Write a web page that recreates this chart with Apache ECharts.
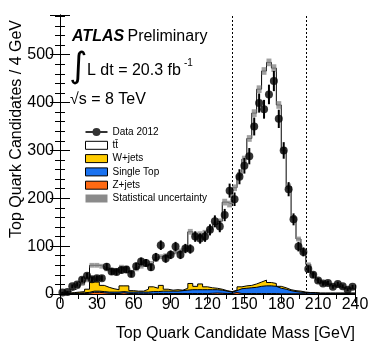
<!DOCTYPE html>
<html>
<head>
<meta charset="utf-8">
<script src="https://cdn.jsdelivr.net/npm/echarts@6/dist/echarts.min.js"></script>
<style>
html, body { margin: 0; padding: 0; background: #fff; }
#main { width: 374px; height: 351px; }
</style>
</head>
<body>
<div id="main"></div>
<script>
// bins of 4 GeV, lower edges
var binLow = [0, 4, 8, 12, 16, 20, 24, 28, 32, 36, 40, 44, 48, 52, 56, 60, 64, 68, 72, 76,
  80, 84, 88, 92, 96, 100, 104, 108, 112, 116, 120, 124, 128, 132, 136, 140, 144, 148, 152, 156,
  160, 164, 168, 172, 176, 180, 184, 188, 192, 196, 200, 204, 208, 212, 216, 220, 224, 228, 232, 236];
var binWidth = 4;
var windowCuts = [140, 200];

var dataCounts = [3, 4, 16, 20, 30, 38, 31, 33, 33, 57, 47, 46, 50, 51, 42, 58, 68, 65, 56, 77,
  102, 74, 82, 99, 82, 95, 94, 120, 116, 120, 134, 152, 141, 165, 216, 198, 245, 268, 288, 350,
  399, 386, 417, 445, 366, 300, 219, 156, 99, 88, 52, 40, 28, 22, 23, 15, 21, 16, 9, 15];
var dataErr = [1.7, 2, 4, 4.5, 5.5, 6.2, 5.6, 5.7, 5.7, 7.5, 6.9, 6.8, 7.1, 7.1, 6.5, 7.6, 8.2, 8.1, 7.5, 8.8,
  10, 8.6, 9, 9.9, 9, 9.7, 9.7, 11, 10.8, 11, 11.6, 12.3, 11.9, 12.8, 14.7, 14.1, 15.7, 16.4, 17, 18.7,
  20, 19.6, 20.4, 21.1, 19.1, 17.3, 14.8, 12.5, 10, 9.4, 7.2, 6.3, 5.3, 4.7, 4.8, 3.9, 4.6, 4, 3, 3.9];

var ttbar = [1, 3, 6, 9, 15, 18, 35, 35, 40, 38, 39, 41, 39, 37, 39, 46, 52, 52, 49, 60,
  60, 70, 76, 79, 82, 83, 108, 108, 104, 113, 122, 133, 142, 185, 183, 214, 233, 265, 307, 357,
  403, 437, 460, 450, 379, 287, 216, 153, 109, 84, 59, 39, 28, 22, 18, 15, 13, 11, 10, 9];
var wjets = [0.5, 1, 1.5, 2, 2.5, 6.5, 19, 19, 13, 10, 7, 5, 12, 13, 3, 2, 2, 6, 10, 7,
  12, 4, 2, 3, 1, 4, 13, 7, 12, 6, 4, 3, 2, 1, 1, 1, 4, 5, 5, 7,
  9, 12, 7, 6, 4, 3, 2, 2, 2, 1, 0.5, 1, 0.5, 0.5, 0.5, 0.5, 0.5, 0.5, 0.5, 0.5];
var singleTop = [0.5, 1, 1, 1.5, 1.5, 2, 2.5, 2.5, 2.5, 2.5, 3, 3, 2.5, 3, 3, 3.5, 3.5, 3.5, 4.5, 4,
  5, 5, 5, 5, 6, 7, 8, 8, 8, 8, 7.5, 7, 6.5, 5, 3, 4, 10, 11, 12, 13,
  15, 16, 16, 15, 11.5, 9.5, 6.5, 4.5, 3.5, 2.5, 2.5, 2, 1.5, 1.5, 1.5, 1.5, 1.5, 1.5, 1.5, 1.5];
var zjets = [0, 0, 0.5, 0.5, 1, 1.5, 3.5, 3.5, 2.5, 1.5, 1, 1, 2.5, 1, 1, 0.5, 0.5, 0.5, 0.5, 1,
  1, 1, 1, 1, 1, 1, 1, 1, 1, 1, 1.5, 2, 1.5, 1, 1, 3, 1, 1, 1, 1,
  1, 1, 1, 1, 0.5, 0.5, 0.5, 0.5, 0.5, 0.5, 0, 0, 0, 0, 0, 0, 0, 0, 0, 0];
var mcErr = [1, 1.5, 2, 2.5, 3, 3.5, 5, 5, 5, 4.5, 4.5, 4.5, 5, 5, 4.5, 4.5, 5, 5, 5, 5,
  5, 5, 5, 5, 5, 5, 6, 6, 6, 6, 6, 6, 6, 7, 7, 7, 7, 7, 7, 8,
  8, 8, 8, 8, 8, 7, 6, 5, 5, 4, 4, 3.5, 3, 3, 2.5, 2.5, 2, 2, 2, 2];

var ttName = 'tt\u0304';
var font = 'Liberation Sans, Arial, sans-serif';

// cumulative stack tops, bottom (Z+jets) to top (ttbar)
var cumZ = zjets.slice();
var cumTop = cumZ.map(function (v, i) { return v + singleTop[i]; });
var cumW = cumTop.map(function (v, i) { return v + wjets[i]; });
var mcTotal = cumW.map(function (v, i) { return v + ttbar[i]; });

function stepPoints(vals) {
  var pts = binLow.map(function (x, i) { return [x, vals[i]]; });
  pts.push([binLow[binLow.length - 1] + binWidth, vals[vals.length - 1]]);
  return pts;
}

function histSeries(name, vals, color) {
  return {
    name: name,
    type: 'line',
    step: 'end',
    data: stepPoints(vals),
    symbol: 'none',
    silent: true,
    z: 2,
    lineStyle: { color: '#000', width: 1 },
    itemStyle: { color: color },
    areaStyle: { color: color, opacity: 1, origin: 'start' }
  };
}

var chartDom = document.getElementById('main');
var myChart = echarts.init(chartDom);
var option;

var tickX = {
  type: 'value', min: 0, max: 240, interval: 30,
  axisLine: { show: true, lineStyle: { color: '#000', width: 1 } },
  axisTick: { show: true, inside: true, length: 9, lineStyle: { color: '#000' } },
  minorTick: { show: true, splitNumber: 2, length: 5, lineStyle: { color: '#000' } },
  splitLine: { show: false },
  minorSplitLine: { show: false }
};
var tickY = {
  type: 'value', min: 0, max: 583, interval: 100,
  axisLine: { show: true, lineStyle: { color: '#000', width: 1 } },
  axisTick: { show: true, inside: true, length: 10, lineStyle: { color: '#000' } },
  minorTick: { show: true, splitNumber: 5, length: 5, lineStyle: { color: '#000' } },
  splitLine: { show: false },
  minorSplitLine: { show: false }
};

option = {
  animation: false,
  backgroundColor: '#fff',
  grid: { left: 60, right: 19, top: 15, bottom: 57, containLabel: false, outerBoundsMode: 'none' },
  xAxis: [
    Object.assign({}, tickX, {
      position: 'bottom',
      axisLabel: { color: '#000', fontSize: 16, fontFamily: font, margin: 3, showMaxLabel: true }
    }),
    Object.assign({}, tickX, { position: 'top', axisLabel: { show: false } })
  ],
  yAxis: [
    Object.assign({}, tickY, {
      position: 'left',
      axisLabel: { color: '#000', fontSize: 16, fontFamily: font, margin: 6, showMaxLabel: false }
    }),
    Object.assign({}, tickY, { position: 'right', axisLabel: { show: false } })
  ],
  legend: {
    orient: 'vertical',
    left: 80,
    top: 121,
    itemWidth: 22,
    itemHeight: 8,
    itemGap: 1.3,
    selectedMode: false,
    textStyle: { fontSize: 10, color: '#000', fontFamily: font, lineHeight: 12 },
    data: [
      { name: 'Data 2012', icon: 'path://M0,3H22V5H0Z M11,0A4,4 0 1,1 11,8A4,4 0 1,1 11,0Z', itemStyle: { color: '#000', borderWidth: 0 } },
      { name: ttName, icon: 'rect', itemStyle: { color: '#fff', borderColor: '#000', borderWidth: 1 } },
      { name: 'W+jets', icon: 'rect', itemStyle: { color: '#ffcc00', borderColor: '#000', borderWidth: 1 } },
      { name: 'Single Top', icon: 'rect', itemStyle: { color: '#1a72f0', borderColor: '#000', borderWidth: 1 } },
      { name: 'Z+jets', icon: 'rect', itemStyle: { color: '#ff6a13', borderColor: '#000', borderWidth: 1 } },
      { name: 'Statistical uncertainty', icon: 'rect', itemStyle: { color: '#8a8a8a', borderWidth: 0 } }
    ]
  },
  graphic: [
    {
      type: 'text', x: 72, y: 37,
      style: {
        text: '{a|ATLAS} {b|Preliminary}',
        verticalAlign: 'middle',
        rich: {
          a: { fontSize: 16, fontWeight: 'bold', fontStyle: 'italic', fontFamily: font, fill: '#000' },
          b: { fontSize: 16, fontFamily: font, fill: '#000' }
        }
      }
    },
    {
      type: 'text', x: 69, y: 68,
      style: { text: '\u222B', font: '35px DejaVu Sans', fill: '#000', verticalAlign: 'middle' }
    },
    {
      type: 'text', x: 87, y: 71,
      style: { text: 'L dt = 20.3 fb', font: '16px ' + font, fill: '#000', verticalAlign: 'middle' }
    },
    {
      type: 'text', x: 184, y: 63,
      style: { text: '-1', font: '10px ' + font, fill: '#000', verticalAlign: 'middle' }
    },
    {
      type: 'text', x: 70, y: 100,
      style: { text: '\u221As = 8 TeV', font: '16px ' + font, fill: '#000', verticalAlign: 'middle' }
    },
    {
      type: 'text', x: 17, y: 20, rotation: Math.PI / 2,
      style: { text: 'Top Quark Candidates / 4 GeV', font: '16px ' + font, fill: '#000', align: 'right', verticalAlign: 'middle' }
    },
    {
      type: 'text', x: 355, y: 334,
      style: { text: 'Top Quark Candidate Mass [GeV]', font: '16px ' + font, fill: '#000', align: 'right', verticalAlign: 'middle' }
    }
  ],
  series: [
    histSeries(ttName, mcTotal, '#ffffff'),
    histSeries('W+jets', cumW, '#ffcc00'),
    histSeries('Single Top', cumTop, '#1a72f0'),
    histSeries('Z+jets', cumZ, '#ff6a13'),
    {
      name: 'Statistical uncertainty',
      type: 'custom',
      silent: true,
      z: 3,
      itemStyle: { color: '#8a8a8a' },
      data: binLow.map(function (x, i) {
        return [x, x + binWidth, mcTotal[i] - mcErr[i], mcTotal[i] + mcErr[i]];
      }),
      encode: { x: [0, 1], y: [2, 3] },
      renderItem: function (params, api) {
        var p0 = api.coord([api.value(0), api.value(3)]);
        var p1 = api.coord([api.value(1), api.value(2)]);
        return {
          type: 'rect',
          shape: { x: p0[0], y: p0[1], width: p1[0] - p0[0], height: p1[1] - p0[1] },
          style: { fill: '#8a8a8a', opacity: 0.8 }
        };
      }
    },
    {
      name: 'Data errors',
      type: 'custom',
      silent: true,
      z: 4,
      data: binLow.map(function (x, i) {
        return [x + binWidth / 2, dataCounts[i] - dataErr[i], dataCounts[i] + dataErr[i]];
      }),
      encode: { x: 0, y: [1, 2] },
      renderItem: function (params, api) {
        var lo = api.coord([api.value(0), api.value(1)]);
        var hi = api.coord([api.value(0), api.value(2)]);
        return {
          type: 'line',
          shape: { x1: lo[0], y1: lo[1], x2: hi[0], y2: hi[1] },
          style: { stroke: '#000', lineWidth: 2 }
        };
      }
    },
    {
      name: 'Data 2012',
      type: 'scatter',
      z: 5,
      silent: true,
      symbol: 'circle',
      symbolSize: 8,
      itemStyle: { color: '#000' },
      data: binLow.map(function (x, i) { return [x + binWidth / 2, dataCounts[i]]; }),
      markLine: {
        silent: true,
        symbol: ['none', 'none'],
        label: { show: false },
        lineStyle: { color: '#000', width: 1, type: [2, 2] },
        data: windowCuts.map(function (c) { return { xAxis: c }; })
      }
    }
  ]
};
myChart.setOption(option);
</script>
</body>
</html>
